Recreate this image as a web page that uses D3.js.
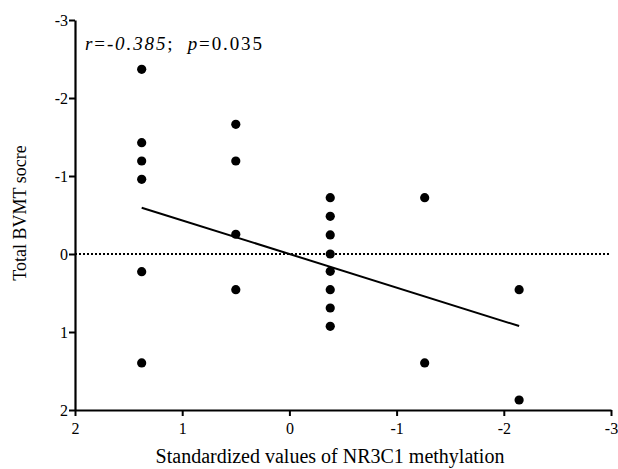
<!DOCTYPE html>
<html>
<head>
<meta charset="utf-8">
<script src="https://cdn.jsdelivr.net/npm/d3@7"></script>
<style>
  body { margin: 0; background: #fff; }
  svg text { font-family: "Liberation Serif", "Times New Roman", serif; fill: #000; }
</style>
</head>
<body>
<div id="chart"></div>
<script>
// methylation (x) per column, BVMT score (y) per point
const colX = [1.378, 0.5, -0.381, -1.262, -2.143];
const colY = [
  [-2.368, -1.427, -1.192, -0.958, 0.227, 1.397],
  [-1.663, -1.192, -0.253, 0.458],
  [-0.722, -0.483, -0.244, 0, 0.222, 0.458, 0.692, 0.927],
  [-0.722, 1.397],
  [0.458, 1.872]
];
const xTicks = [2, 1, 0, -1, -2, -3];
const yTicks = [-3, -2, -1, 0, 1, 2];
// fitted line
const fitSlope = -0.431, fitIntercept = 0;
const fitRange = [1.378, -2.143];

const width = 618, height = 469;
const svg = d3.select("#chart").append("svg").attr("width", width).attr("height", height);

const x = d3.scaleLinear().domain([2, -3]).range([75, 611]);
const y = d3.scaleLinear().domain([-3, 2]).range([20, 410]);

// zero reference line
svg.append("line")
  .attr("x1", x(2)).attr("x2", x(-3))
  .attr("y1", y(0)).attr("y2", y(0))
  .attr("stroke", "#000").attr("stroke-width", 2)
  .attr("stroke-dasharray", "2,2");

// axes
const xAxis = svg.append("g").attr("transform", "translate(0," + y(2) + ")")
  .call(d3.axisBottom(x).tickValues(xTicks).tickSize(6).tickSizeOuter(0).tickFormat(d3.format("d")));
const yAxis = svg.append("g").attr("transform", "translate(" + x(2) + ",0)")
  .call(d3.axisLeft(y).tickValues(yTicks).tickSize(6).tickSizeOuter(0).tickFormat(d3.format("d")));

[xAxis, yAxis].forEach(g => {
  g.attr("font-family", "Liberation Serif").attr("font-size", 16);
  g.select(".domain").attr("stroke", "#000").attr("stroke-width", 2.2);
  g.selectAll(".tick line").attr("stroke", "#000").attr("stroke-width", 2);
});
xAxis.selectAll(".tick text").attr("dy", "0.95em");
yAxis.selectAll(".tick text").attr("x", -7);
// plain hyphen like the source
svg.selectAll(".tick text").text(d => String(d));

// regression line
svg.append("line")
  .attr("x1", x(fitRange[0])).attr("y1", y(fitSlope * fitRange[0] + fitIntercept))
  .attr("x2", x(fitRange[1])).attr("y2", y(fitSlope * fitRange[1] + fitIntercept))
  .attr("stroke", "#000").attr("stroke-width", 2);

// points
const pts = [];
colX.forEach((cx, i) => colY[i].forEach(v => pts.push([cx, v])));
svg.selectAll("circle.pt").data(pts).enter().append("circle")
  .attr("class", "pt")
  .attr("cx", d => x(d[0])).attr("cy", d => y(d[1]))
  .attr("r", 4.6).attr("fill", "#000");

// stats label
const st = svg.append("text").attr("x", 85).attr("y", 50)
  .style("font-size", "19px")
  .attr("textLength", 177).attr("lengthAdjust", "spacing");
st.append("tspan").style("font-style", "italic").text("r");
st.append("tspan").text("=");
st.append("tspan").style("font-style", "italic").text("-0.385");
st.append("tspan").text(";\u00a0\u00a0");
st.append("tspan").style("font-style", "italic").text("p");
st.append("tspan").text("=0.035");

// axis titles
svg.append("text")
  .attr("x", 330).attr("y", 463)
  .attr("text-anchor", "middle")
  .style("font-size", "20px")
  .text("Standardized values of NR3C1 methylation");

svg.append("text")
  .attr("transform", "translate(26,213) rotate(-90)")
  .attr("text-anchor", "middle")
  .style("font-size", "18px")
  .text("Total BVMT socre");
</script>
</body>
</html>
